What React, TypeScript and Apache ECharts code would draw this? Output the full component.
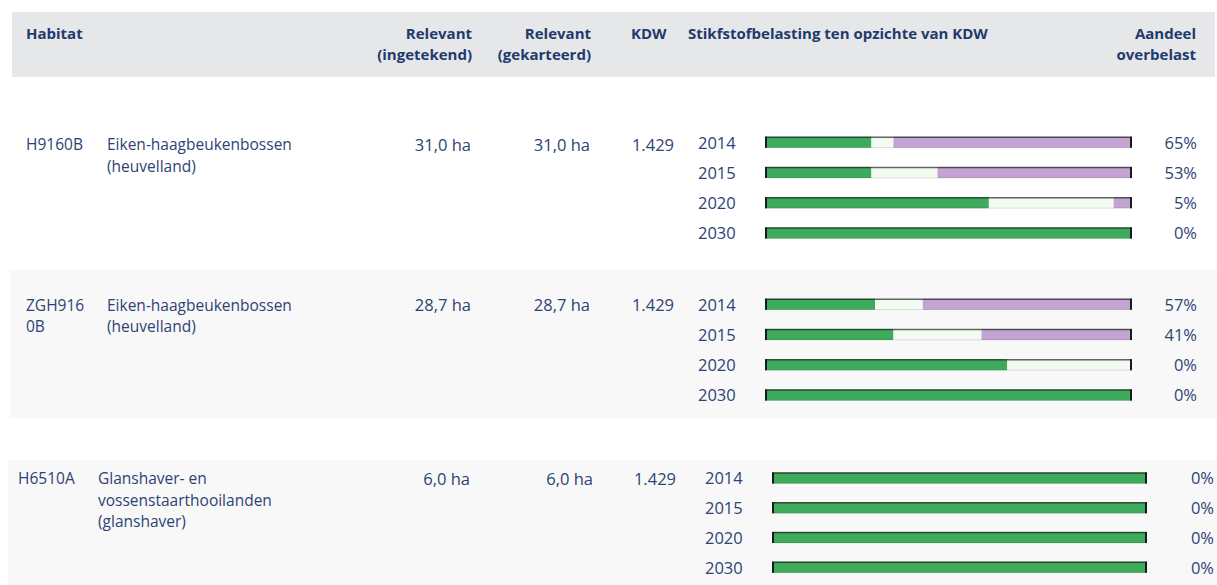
import { useEffect, useRef } from 'react';
import * as echarts from 'echarts';

// Years shown per habitat
const years = ['2014', '2015', '2020', '2030'];

// Table columns
const habitatCodes = [['H9160B'], ['ZGH916', '0B'], ['H6510A']];
const habitatNames = [
  ['Eiken-haagbeukenbossen', '(heuvelland)'],
  ['Eiken-haagbeukenbossen', '(heuvelland)'],
  ['Glanshaver- en', 'vossenstaarthooilanden', '(glanshaver)'],
];
const areaDrawn = ['31,0 ha', '28,7 ha', '6,0 ha'];
const areaMapped = ['31,0 ha', '28,7 ha', '6,0 ha'];
const kdwValues = ['1.429', '1.429', '1.429'];

// Share of the relevant area per nitrogen class, in % (per year)
const belowKdw = [
  [29, 29, 61, 100],
  [30, 35, 66, 100],
  [100, 100, 100, 100],
];
const equilibrium = [
  [6, 18, 34, 0],
  [13, 24, 34, 0],
  [0, 0, 0, 0],
];
const overloaded = [
  [65, 53, 5, 0],
  [57, 41, 0, 0],
  [0, 0, 0, 0],
];

const FONT = '"Open Sans", "Noto Sans", sans-serif';
const HEAD_COLOR = '#1f3a6d';
const TEXT_COLOR = '#2e4373';
const GREEN = '#3eaa5b';
const PALE = '#f2faf2';
const PURPLE = '#c3a3d2';
const BODY_SIZE = 15.5;
const AXIS_SIZE = 16.5;
const LINE = 21.5;

// Layout of each habitat block
const blocks = [
  { top: 127, height: 121, left: 765, width: 367, textY: 144, codeX: 26, nameX: 107, drawnR: 471, mappedR: 590, kdwR: 674, yearX: 698, pctR: 1197 },
  { top: 289, height: 121, left: 765, width: 367, textY: 304.5, codeX: 26, nameX: 107, drawnR: 471, mappedR: 590, kdwR: 674, yearX: 698, pctR: 1197 },
  { top: 463, height: 119, left: 772, width: 376, textY: 478, codeX: 18, nameX: 98, drawnR: 470, mappedR: 593, kdwR: 676, yearX: 705, pctR: 1215 },
];

// Text block whose first line is centred on y; extra lines follow at a fixed line height
function txt(lines: string[] | string, x: number, y: number, opts: any = {}) {
  const arr = Array.isArray(lines) ? lines : [lines];
  const lh = opts.lineHeight ?? LINE;
  return {
    type: 'text',
    x,
    y: y - lh / 2,
    z: 1,
    style: {
      text: arr.join('\n'),
      fill: opts.fill ?? TEXT_COLOR,
      fontSize: opts.size ?? BODY_SIZE,
      fontWeight: opts.weight ?? 'normal',
      fontFamily: FONT,
      lineHeight: lh,
      align: opts.align ?? 'left',
      verticalAlign: 'top',
    },
  };
}

export default function App() {
  const ref = useRef<HTMLDivElement>(null);

  useEffect(() => {
    document.body.style.margin = '0';
    const chart = echarts.init(ref.current!, null, { renderer: 'svg' });

    const graphic: any[] = [
      // header band and shaded rows
      { type: 'rect', z: -1, shape: { x: 12, y: 12, width: 1203, height: 65 }, style: { fill: '#e6e7e9' } },
      { type: 'rect', z: -1, shape: { x: 10, y: 270, width: 1207, height: 148 }, style: { fill: '#f8f8f8' } },
      { type: 'rect', z: -1, shape: { x: 8, y: 460, width: 1209, height: 125 }, style: { fill: '#f8f8f8' } },
    ];

    const hb = { fill: HEAD_COLOR, weight: 'bold', size: 15, lineHeight: 21 };
    const hy = 33;
    graphic.push(
      txt('Habitat', 26, hy, hb),
      txt(['Relevant', '(ingetekend)'], 472, hy, { ...hb, align: 'right' }),
      txt(['Relevant', '(gekarteerd)'], 591, hy, { ...hb, align: 'right' }),
      txt('KDW', 631, hy, hb),
      txt('Stikfstofbelasting ten opzichte van KDW', 688, hy, hb),
      txt(['Aandeel', 'overbelast'], 1196, hy, { ...hb, align: 'right' }),
    );

    blocks.forEach((b, i) => {
      graphic.push(
        txt(habitatCodes[i], b.codeX, b.textY),
        txt(habitatNames[i], b.nameX, b.textY),
        txt(areaDrawn[i], b.drawnR, b.textY, { align: 'right', size: AXIS_SIZE }),
        txt(areaMapped[i], b.mappedR, b.textY, { align: 'right', size: AXIS_SIZE }),
        txt(kdwValues[i], b.kdwR, b.textY, { align: 'right', size: AXIS_SIZE }),
      );
    });

    const grid: any[] = [];
    const xAxis: any[] = [];
    const yAxis: any[] = [];
    const series: any[] = [];

    blocks.forEach((b, i) => {
      grid.push({ left: b.left, top: b.top, width: b.width, height: b.height, containLabel: false });
      xAxis.push({ gridIndex: i, type: 'value', min: 0, max: 100, show: false });
      yAxis.push({
        gridIndex: i,
        type: 'category',
        data: years,
        inverse: true,
        axisLine: { show: false },
        axisTick: { show: false },
        axisLabel: { align: 'left', margin: b.left - b.yearX, color: TEXT_COLOR, fontSize: AXIS_SIZE, fontFamily: FONT },
      });
      yAxis.push({
        gridIndex: i,
        type: 'category',
        position: 'right',
        data: overloaded[i].map((v) => `${v}%`),
        inverse: true,
        axisLine: { show: false },
        axisTick: { show: false },
        axisLabel: { align: 'right', margin: b.pctR - (b.left + b.width), color: TEXT_COLOR, fontSize: AXIS_SIZE, fontFamily: FONT },
      });

      const common = { type: 'bar', stack: `block${i}`, xAxisIndex: i, yAxisIndex: 2 * i, barWidth: 11, z: 2 };
      series.push(
        { ...common, name: 'Geen overbelasting', data: belowKdw[i], itemStyle: { color: GREEN } },
        { ...common, name: 'Evenwicht', data: equilibrium[i], itemStyle: { color: PALE } },
        { ...common, name: 'Overbelasting', data: overloaded[i], itemStyle: { color: PURPLE } },
      );

      // frame around each bar: dark top edge and end caps
      series.push({
        type: 'custom',
        xAxisIndex: i,
        yAxisIndex: 2 * i,
        z: 5,
        data: years.map((_, j) => [0, j, 100]),
        renderItem: (_params: any, api: any) => {
          const a = api.coord([api.value(0), api.value(1)]);
          const e = api.coord([api.value(2), api.value(1)]);
          const h = 11;
          const yt = a[1] - h / 2;
          const yb = a[1] + h / 2;
          return {
            type: 'group',
            children: [
              { type: 'line', shape: { x1: a[0], y1: yt + 0.7, x2: e[0], y2: yt + 0.7 }, style: { stroke: 'rgba(20,20,20,0.65)', lineWidth: 1.5 } },
              { type: 'line', shape: { x1: a[0], y1: yb, x2: e[0], y2: yb }, style: { stroke: 'rgba(0,0,0,0.12)', lineWidth: 1 } },
              { type: 'line', shape: { x1: a[0] + 1, y1: yt, x2: a[0] + 1, y2: yb }, style: { stroke: '#1a1a1a', lineWidth: 2 } },
              { type: 'line', shape: { x1: e[0] - 1, y1: yt, x2: e[0] - 1, y2: yb }, style: { stroke: '#1a1a1a', lineWidth: 2 } },
            ],
          };
        },
      });
    });

    chart.setOption({
      animation: false,
      backgroundColor: '#ffffff',
      textStyle: { fontFamily: FONT },
      graphic,
      grid,
      xAxis,
      yAxis,
      series,
    });

    return () => chart.dispose();
  }, []);

  return <div ref={ref} style={{ width: 1217, height: 585 }} />;
}
